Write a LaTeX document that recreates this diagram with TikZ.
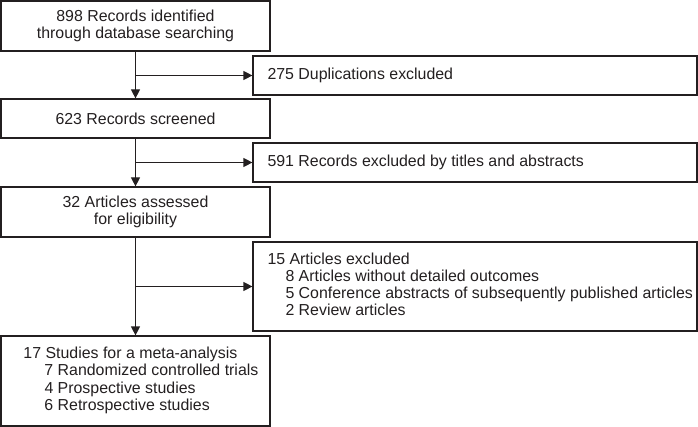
\documentclass[tikz,border=0pt]{standalone}
\usepackage{fontspec}
\setmainfont{Liberation Sans}
\usetikzlibrary{arrows.meta}
\definecolor{ink}{HTML}{231F20}
\begin{document}
\begin{tikzpicture}[x=1pt,y=-1pt,
  box/.style={draw=ink,line width=1.2pt,inner sep=0pt,font=\fontsize{15.9}{17.3}\selectfont,text=ink},
  lbox/.style={box,minimum width=269pt},
  rbox/.style={box,minimum width=444pt},
  conn/.style={draw=ink,line width=1.2pt},
  arr/.style={conn,-{Triangle[length=9pt,width=9pt]}}]
\useasboundingbox (0,0) rectangle (698,427);
\node[lbox,minimum height=50pt,align=center] (a) at (135.5,26) {898 Records identified\\through database searching};
\node[rbox,minimum height=39pt] (d1) at (475,75.5) {\makebox[444pt][l]{\hspace*{14.5pt}275 Duplications excluded}};
\node[lbox,minimum height=39pt] (b) at (135.5,118.5) {623 Records screened};
\node[rbox,minimum height=39pt] (d2) at (475,162.5) {\makebox[444pt][l]{\hspace*{14.5pt}591 Records excluded by titles and abstracts}};
\node[lbox,minimum height=50pt,align=center] (c) at (135.5,212) {32 Articles assessed\\for eligibility};
\node[rbox,minimum height=89pt] (d3) at (475,286.5) {\makebox[444pt][l]{\hspace*{14.5pt}\begin{tabular}{@{}l@{}}15 Articles excluded\\
\hspace*{18pt}8 Articles without detailed outcomes\\
\hspace*{18pt}5 Conference abstracts of subsequently published articles\\
\hspace*{18pt}2 Review articles\end{tabular}}};
\node[lbox,minimum height=90pt] (e) at (135.5,381) {\makebox[269pt][l]{\hspace*{22.5pt}\begin{tabular}{@{}l@{}}17 Studies for a meta-analysis\\
\hspace*{21pt}7 Randomized controlled trials\\
\hspace*{21pt}4 Prospective studies\\
\hspace*{21pt}6 Retrospective studies\end{tabular}}};
\draw[arr] (a.south) -- (b.north);
\draw[arr] (a.south |- d1.west) -- (d1.west);
\draw[arr] (b.south) -- (c.north);
\draw[arr] (b.south |- d2.west) -- (d2.west);
\draw[arr] (c.south) -- (e.north);
\draw[arr] (c.south |- d3.west) -- (d3.west);
\end{tikzpicture}
\end{document}
